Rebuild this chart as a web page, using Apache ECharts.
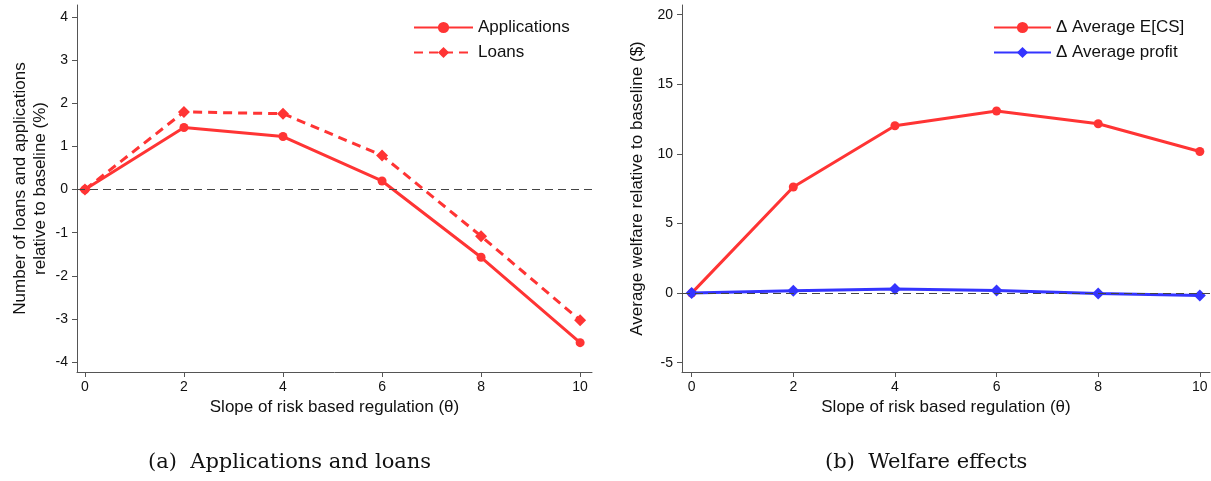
<!DOCTYPE html>
<html><head><meta charset="utf-8">
<script src="https://cdn.jsdelivr.net/npm/echarts@6/dist/echarts.min.js"></script>
<style>html,body{margin:0;padding:0;background:#fff}#c{width:1211px;height:481px}</style>
</head><body><div id="c"></div>
<script>
const theta = [0, 2, 4, 6, 8, 10];
const applications = [0, 1.44, 1.23, 0.20, -1.57, -3.55];
const loans = [0, 1.80, 1.76, 0.79, -1.08, -3.03];
const avgCS = [0, 7.62, 12.02, 13.08, 12.17, 10.17];
const avgProfit = [0, 0.17, 0.29, 0.18, -0.03, -0.17];
const xTicks = [0, 2, 4, 6, 8, 10];
const yTicksLeft = [-4, -3, -2, -1, 0, 1, 2, 3, 4];
const yTicksRight = [-5, 0, 5, 10, 15, 20];

const RED = '#ff3434', BLUE = '#3434ff', AX = '#555';
const pair = (xs, ys) => xs.map((x, i) => [x, ys[i]]);
const font = 'Liberation Sans, Arial, sans-serif';
const chart = echarts.init(document.getElementById('c'));

function xAxis(gi, min, max) {
  return {
    type: 'value', gridIndex: gi, min: min, max: max,
    name: 'Slope of risk based regulation (θ)', nameLocation: 'middle', nameGap: 26,
    nameTextStyle: {fontFamily: font, fontSize: 17, color: '#111'},
    axisLine: {show: true, onZero: false, lineStyle: {color: AX, width: 1}},
    axisTick: {show: true, length: 5, customValues: xTicks, lineStyle: {color: AX}},
    axisLabel: {customValues: xTicks, fontFamily: font, fontSize: 14, color: '#111', margin: 8},
    splitLine: {show: false}
  };
}
function yAxis(gi, min, max, ticks, name, gap) {
  return {
    type: 'value', gridIndex: gi, min: min, max: max,
    name: name, nameLocation: 'middle', nameGap: gap, nameRotate: 90,
    nameTextStyle: {fontFamily: font, fontSize: 17, color: '#111', lineHeight: 20, align: 'center'},
    axisLine: {show: true, onZero: false, lineStyle: {color: AX, width: 1}},
    axisTick: {show: true, length: 5, customValues: ticks, lineStyle: {color: AX}},
    axisLabel: {customValues: ticks, fontFamily: font, fontSize: 14, color: '#111', margin: 9},
    splitLine: {show: false}
  };
}
const zeroLine = {
  silent: true, symbol: 'none', label: {show: false},
  lineStyle: {color: '#444', type: [8, 5], width: 1},
  data: [{yAxis: 0}]
};

chart.setOption({
  animation: false,
  grid: [
    {left: 77, top: 5, width: 515, height: 367},
    {left: 682, top: 5, width: 528, height: 367}
  ],
  xAxis: [xAxis(0, -0.16, 10.24), xAxis(1, -0.19, 10.2)],
  yAxis: [
    yAxis(0, -4.23, 4.28, yTicksLeft, 'Number of loans and applications\nrelative to baseline (%)', 27),
    yAxis(1, -5.67, 20.7, yTicksRight, 'Average welfare relative to baseline ($)', 35)
  ],
  legend: [
    {data: ['Applications', 'Loans'], orient: 'vertical', left: 408, top: 14,
     itemWidth: 59, itemHeight: 14, itemGap: 8,
     textStyle: {fontFamily: font, fontSize: 17, color: '#111'}},
    {data: ['Δ Average E[CS]', 'Δ Average profit'], orient: 'vertical', left: 988, top: 14,
     itemWidth: 57, itemHeight: 14, itemGap: 8,
     textStyle: {fontFamily: font, fontSize: 17, color: '#111'}}
  ],
  series: [
    {name: 'Applications', type: 'line', xAxisIndex: 0, yAxisIndex: 0, data: pair(theta, applications),
     symbol: 'circle', symbolSize: 9, color: RED, lineStyle: {width: 3, color: RED},
     markLine: zeroLine, z: 3},
    {name: 'Loans', type: 'line', xAxisIndex: 0, yAxisIndex: 0, data: pair(theta, loans),
     symbol: 'diamond', symbolSize: 12, color: RED, lineStyle: {width: 3, color: RED, type: [9, 6]}, z: 3},
    {name: 'Δ Average E[CS]', type: 'line', xAxisIndex: 1, yAxisIndex: 1, data: pair(theta, avgCS),
     symbol: 'circle', symbolSize: 9, color: RED, lineStyle: {width: 3, color: RED},
     markLine: zeroLine, z: 3},
    {name: 'Δ Average profit', type: 'line', xAxisIndex: 1, yAxisIndex: 1, data: pair(theta, avgProfit),
     symbol: 'diamond', symbolSize: 12, color: BLUE, lineStyle: {width: 3, color: BLUE}, z: 4}
  ],
  graphic: [
    {type: 'text', left: 148, top: 452, style: {text: '(a)  Applications and loans', font: '21px "DejaVu Serif", "Liberation Serif", serif', fill: '#111'}},
    {type: 'text', left: 825, top: 452, style: {text: '(b)  Welfare effects', font: '21px "DejaVu Serif", "Liberation Serif", serif', fill: '#111'}}
  ]
});
</script></body></html>
